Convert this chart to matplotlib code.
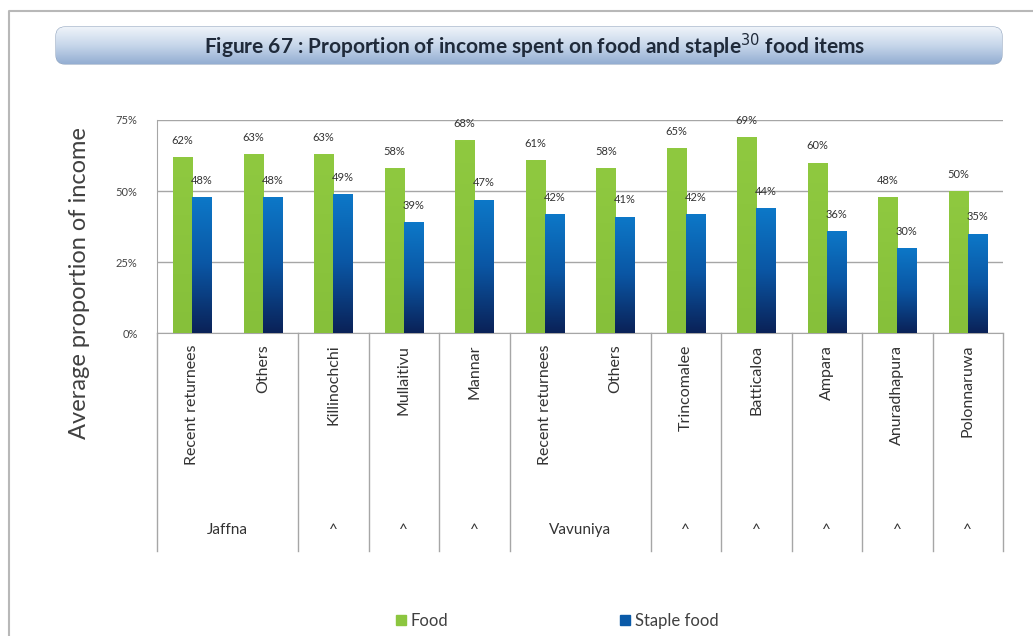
import numpy as np
import matplotlib

matplotlib.use("Agg")
import matplotlib.pyplot as plt
from matplotlib.patches import FancyBboxPatch, Rectangle
from matplotlib.lines import Line2D
from matplotlib.colors import LinearSegmentedColormap

plt.rcParams["font.family"] = ["Lato", "DejaVu Sans"]

# ── Data ──
categories = ["Recent returnees", "Others", "Killinochchi", "Mullaitivu", "Mannar",
              "Recent returnees", "Others", "Trincomalee", "Batticaloa", "Ampara",
              "Anuradhapura", "Polonnaruwa"]
group_labels = ["Jaffna", "^", "^", "^", "Vavuniya", "^", "^", "^", "^", "^"]
group_spans = [2, 1, 1, 1, 2, 1, 1, 1, 1, 1]
food = [62, 63, 63, 58, 68, 61, 58, 65, 69, 60, 48, 50]
staple = [48, 48, 49, 39, 47, 42, 41, 42, 44, 36, 30, 35]
yticks = [0, 25, 50, 75]

W, H = 1033, 636
fig = plt.figure(figsize=(W / 100, H / 100), dpi=100)

# background layer in pixel coordinates: outer frame + title banner
bg = fig.add_axes([0, 0, 1, 1], zorder=-1)
bg.set_xlim(0, W)
bg.set_ylim(H, 0)
bg.axis("off")
bg.plot([9, 9, W], [H, 11, 11], color="#b8b8b8", lw=1.5)

banner = FancyBboxPatch((56, 27), 946, 37, boxstyle="round,pad=0,rounding_size=9",
                        fc="none", ec="#8ea2bd", lw=0.8)
bg.add_patch(banner)
grad = np.linspace(0, 1, 64).reshape(-1, 1)
cmap_b = LinearSegmentedColormap.from_list("b", ["#eef3f9", "#c6d6ea", "#94aed2"])
im = bg.imshow(grad, extent=(56, 1002, 64, 27), cmap=cmap_b, aspect="auto", zorder=1)
im.set_clip_path(banner)
bg.text(535, 46, "Figure 67 : Proportion of income spent on food and staple$^{30}$ food items",
        ha="center", va="center", fontsize=15, fontweight="bold", color="#1f2a3a",
        zorder=2, family=["Liberation Sans Narrow", "Lato", "DejaVu Sans"])

# ── Main axes ──
ax = fig.add_axes([157 / W, 1 - 333 / H, (1003 - 157) / W, 213 / H])
x = np.arange(len(categories))
bw = 0.27
cmap_blue = LinearSegmentedColormap.from_list("blue", ["#0d78c8", "#0a56a4", "#0b2258"])
cmap_green = LinearSegmentedColormap.from_list("green", ["#8fc940", "#86c03a"])

bars_f = ax.bar(x - bw / 2, food, bw, color="#8cc63f", zorder=2)
bars_s = ax.bar(x + bw / 2, staple, bw, color="#0a5aa8", zorder=2)
for bars, cm in ((bars_f, cmap_green), (bars_s, cmap_blue)):
    for b in bars:
        x0, y1 = b.get_x(), b.get_height()
        g = ax.imshow(grad, extent=(x0, x0 + b.get_width(), 0, y1), cmap=cm,
                      aspect="auto", zorder=3)
        g.set_clip_path(b)

for vals, xs in ((food, x - bw / 2), (staple, x + bw / 2)):
    for xi, v in zip(xs, vals):
        ax.annotate(f"{v}%", (xi, v), xytext=(0, 8), textcoords="offset points",
                    ha="center", va="bottom", fontsize=8, color="#333333", zorder=4)

ax.set_xlim(-0.5, len(categories) - 0.5)
ax.set_ylim(0, 75)
ax.set_yticks(yticks)
ax.set_yticklabels([f"{t}%" for t in yticks], fontsize=8, color="#444444")
ax.tick_params(axis="y", length=0, pad=14)
ax.tick_params(axis="x", length=0, labelbottom=False)
ax.grid(axis="y", color="#a6a6a6", lw=1, zorder=0)
for s in ("top", "right"):
    ax.spines[s].set_visible(False)
ax.spines["left"].set_color("#a6a6a6")
ax.spines["bottom"].set_color("#a6a6a6")
ax.set_ylabel("Average proportion of income", fontsize=17, color="#404040")
ax.yaxis.set_label_coords(-(157 - 90) / 846, -(283 - 333) / 213)

# multi-level category axis
trans = ax.get_xaxis_transform()
for xi, lab in zip(x, categories):
    ax.text(xi, -0.055, lab, rotation=90, ha="center", va="top", fontsize=11.5,
            color="#333333", transform=trans)

bottom = -(551 - 333) / 213
edges = [-0.5]
for sp in group_spans:
    edges.append(edges[-1] + sp)
for e in edges:
    ax.add_line(Line2D([e, e], [0, bottom], transform=trans, color="#a6a6a6",
                       lw=1, clip_on=False))
for lab, a, b in zip(group_labels, edges[:-1], edges[1:]):
    ax.text((a + b) / 2, -(530 - 333) / 213, lab, ha="center", va="center",
            fontsize=11, color="#333333", transform=trans)

# legend
handles = [Rectangle((0, 0), 1, 1, color="#8cc63f"), Rectangle((0, 0), 1, 1, color="#0a5aa8")]
fig.legend(handles, ["Food", "Staple food"], loc="center", ncol=2,
           bbox_to_anchor=(557 / W, 1 - 621 / H), frameon=False, fontsize=12,
           handlelength=0.6, handleheight=0.6, handletextpad=0.3, columnspacing=10.3,
           labelcolor="#404040")

fig.savefig("out.png", dpi=100)
